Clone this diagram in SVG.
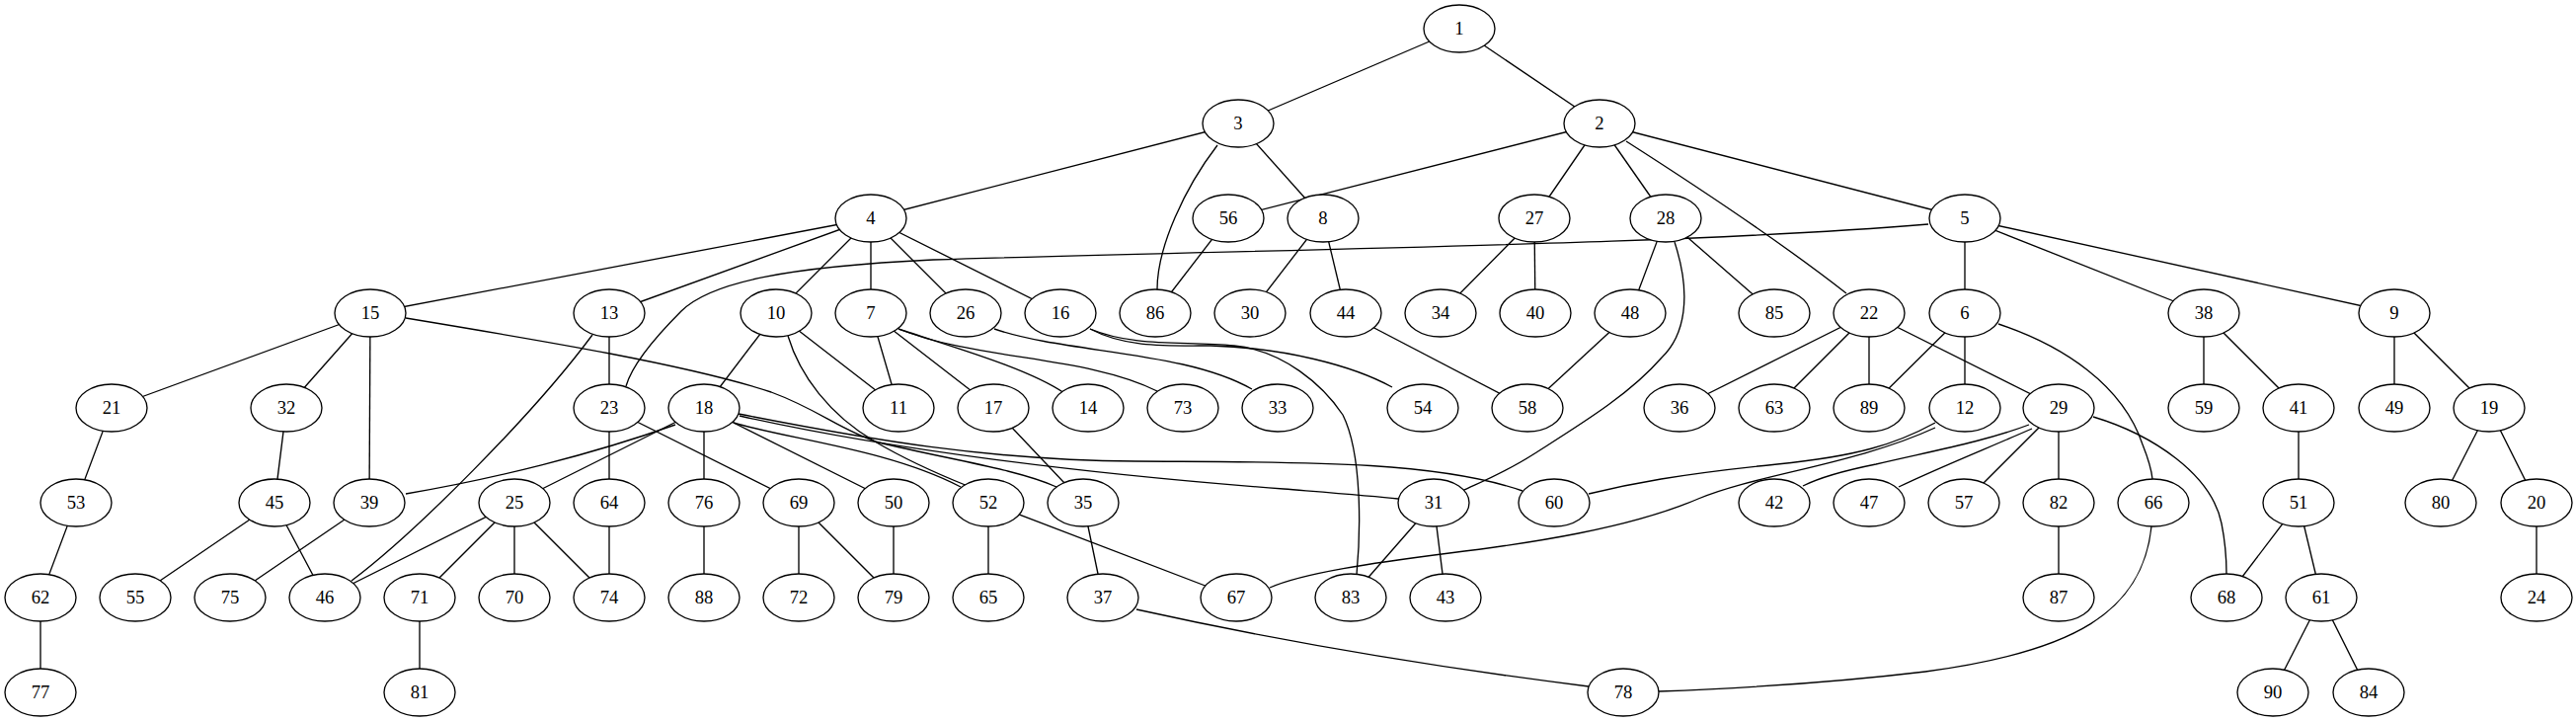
<svg xmlns="http://www.w3.org/2000/svg" width="2609" height="731" viewBox="0 0 2609 731">
<style>
.e{fill:none;stroke:#000;stroke-width:1.33}
.node ellipse{fill:#fff;stroke:#000;stroke-width:1.33}
.node text{font-family:"Liberation Serif","Times New Roman",serif;font-size:18.67px;text-anchor:middle;fill:#000}
</style>
<rect width="2609" height="731" fill="#fff"/>
<g id="edges">
<line class="e" x1="1478" y1="29" x2="1254" y2="125"/>
<line class="e" x1="1478" y1="29" x2="1620" y2="125"/>
<line class="e" x1="1254" y1="125" x2="882" y2="221"/>
<line class="e" x1="1254" y1="125" x2="1340" y2="221"/>
<path class="e" d="M1233,147 C1200,190 1172,250 1172,293"/>
<line class="e" x1="1620" y1="125" x2="1244" y2="221"/>
<line class="e" x1="1620" y1="125" x2="1554" y2="221"/>
<line class="e" x1="1620" y1="125" x2="1687" y2="221"/>
<path class="e" d="M1647,143 C1730,196 1810,250 1870,297"/>
<line class="e" x1="1620" y1="125" x2="1990" y2="221"/>
<line class="e" x1="882" y1="221" x2="375" y2="317"/>
<line class="e" x1="882" y1="221" x2="617" y2="317"/>
<line class="e" x1="882" y1="221" x2="786" y2="317"/>
<line class="e" x1="882" y1="221" x2="882" y2="317"/>
<line class="e" x1="882" y1="221" x2="978" y2="317"/>
<line class="e" x1="882" y1="221" x2="1074" y2="317"/>
<line class="e" x1="1244" y1="221" x2="1170" y2="317"/>
<line class="e" x1="1340" y1="221" x2="1266" y2="317"/>
<line class="e" x1="1340" y1="221" x2="1363" y2="317"/>
<line class="e" x1="1554" y1="221" x2="1459" y2="317"/>
<line class="e" x1="1554" y1="221" x2="1555" y2="317"/>
<line class="e" x1="1687" y1="221" x2="1651" y2="317"/>
<line class="e" x1="1687" y1="221" x2="1797" y2="317"/>
<path class="e" d="M1696,245 C1714,300 1706,340 1683,362 C1650,400 1600,430 1553,460 C1525,478 1500,488 1481,497"/>
<path class="e" d="M1953,227 C1700,248 1300,252 945,263 C800,270 720,285 690,315 C660,345 640,370 634,391"/>
<line class="e" x1="1990" y1="221" x2="1990" y2="317"/>
<line class="e" x1="1990" y1="221" x2="2232" y2="317"/>
<line class="e" x1="1990" y1="221" x2="2425" y2="317"/>
<line class="e" x1="375" y1="317" x2="113" y2="413"/>
<line class="e" x1="375" y1="317" x2="290" y2="413"/>
<line class="e" x1="375" y1="317" x2="374" y2="509"/>
<path class="e" d="M411,322 C550,345 700,370 781,397 C830,415 850,435 890,448 C960,465 1030,475 1070,493"/>
<line class="e" x1="617" y1="317" x2="617" y2="413"/>
<path class="e" d="M600,339 C540,420 420,540 356,588"/>
<line class="e" x1="786" y1="317" x2="713" y2="413"/>
<line class="e" x1="786" y1="317" x2="910" y2="413"/>
<path class="e" d="M798,340 C810,380 840,420 886,447 C920,467 950,480 980,492"/>
<line class="e" x1="882" y1="317" x2="910" y2="413"/>
<line class="e" x1="882" y1="317" x2="1006" y2="413"/>
<path class="e" d="M910,333 C960,350 1040,372 1078,398"/>
<path class="e" d="M910,333 C990,365 1100,360 1172,396"/>
<path class="e" d="M1007,333 C1080,358 1200,355 1268,394"/>
<path class="e" d="M1104,333 C1140,352 1180,350 1226,350 C1300,352 1370,370 1410,392"/>
<path class="e" d="M1104,333 C1150,352 1200,345 1250,350 C1300,355 1340,390 1360,420 C1380,460 1378,540 1374,582"/>
<line class="e" x1="1363" y1="317" x2="1547" y2="413"/>
<line class="e" x1="1651" y1="317" x2="1547" y2="413"/>
<line class="e" x1="1893" y1="317" x2="1701" y2="413"/>
<line class="e" x1="1893" y1="317" x2="1797" y2="413"/>
<line class="e" x1="1893" y1="317" x2="1893" y2="413"/>
<line class="e" x1="1893" y1="317" x2="2085" y2="413"/>
<line class="e" x1="1990" y1="317" x2="1893" y2="413"/>
<line class="e" x1="1990" y1="317" x2="1990" y2="413"/>
<path class="e" d="M2024,328 C2090,350 2150,390 2170,450 C2176,465 2179,475 2180,485"/>
<line class="e" x1="2232" y1="317" x2="2232" y2="413"/>
<line class="e" x1="2232" y1="317" x2="2328" y2="413"/>
<line class="e" x1="2425" y1="317" x2="2425" y2="413"/>
<line class="e" x1="2425" y1="317" x2="2521" y2="413"/>
<line class="e" x1="113" y1="413" x2="77" y2="509"/>
<line class="e" x1="290" y1="413" x2="278" y2="509"/>
<line class="e" x1="617" y1="413" x2="617" y2="509"/>
<line class="e" x1="617" y1="413" x2="809" y2="509"/>
<path class="e" d="M684,430 C600,460 500,485 411,500"/>
<line class="e" x1="713" y1="413" x2="521" y2="509"/>
<line class="e" x1="713" y1="413" x2="713" y2="509"/>
<line class="e" x1="713" y1="413" x2="905" y2="509"/>
<path class="e" d="M743,428 C800,445 900,455 973,493"/>
<path class="e" d="M748,419 C880,445 1000,466 1150,467 C1300,468 1450,465 1542,497"/>
<path class="e" d="M749,421 C900,455 1100,480 1300,495 C1350,499 1390,502 1416,505"/>
<line class="e" x1="1006" y1="413" x2="1097" y2="509"/>
<path class="e" d="M1960,428 C1920,450 1880,462 1800,470 C1700,480 1650,490 1609,500"/>
<path class="e" d="M1960,433 C1880,470 1780,480 1720,505 C1650,535 1550,550 1468,560 C1390,570 1320,580 1286,595"/>
<path class="e" d="M2055,430 C2010,447 1960,456 1900,470 C1860,478 1840,485 1826,492"/>
<path class="e" d="M2058,434 C2010,455 1960,475 1923,493"/>
<line class="e" x1="2085" y1="413" x2="1989" y2="509"/>
<line class="e" x1="2085" y1="413" x2="2085" y2="509"/>
<path class="e" d="M2120,422 C2180,440 2240,480 2250,530 C2255,555 2255,570 2255,581"/>
<line class="e" x1="2328" y1="413" x2="2328" y2="509"/>
<line class="e" x1="2521" y1="413" x2="2472" y2="509"/>
<line class="e" x1="2521" y1="413" x2="2569" y2="509"/>
<line class="e" x1="77" y1="509" x2="41" y2="605"/>
<line class="e" x1="278" y1="509" x2="137" y2="605"/>
<line class="e" x1="278" y1="509" x2="329" y2="605"/>
<line class="e" x1="374" y1="509" x2="233" y2="605"/>
<line class="e" x1="521" y1="509" x2="329" y2="605"/>
<line class="e" x1="521" y1="509" x2="425" y2="605"/>
<line class="e" x1="521" y1="509" x2="521" y2="605"/>
<line class="e" x1="521" y1="509" x2="617" y2="605"/>
<line class="e" x1="617" y1="509" x2="617" y2="605"/>
<line class="e" x1="713" y1="509" x2="713" y2="605"/>
<line class="e" x1="809" y1="509" x2="809" y2="605"/>
<line class="e" x1="809" y1="509" x2="905" y2="605"/>
<line class="e" x1="905" y1="509" x2="905" y2="605"/>
<line class="e" x1="1001" y1="509" x2="1001" y2="605"/>
<line class="e" x1="1001" y1="509" x2="1252" y2="605"/>
<line class="e" x1="1097" y1="509" x2="1117" y2="605"/>
<line class="e" x1="1452" y1="509" x2="1368" y2="605"/>
<line class="e" x1="1452" y1="509" x2="1464" y2="605"/>
<line class="e" x1="2085" y1="509" x2="2085" y2="605"/>
<path class="e" d="M2179,533 C2170,620 2100,660 1950,680 C1850,692 1760,697 1680,700"/>
<line class="e" x1="2328" y1="509" x2="2255" y2="605"/>
<line class="e" x1="2328" y1="509" x2="2351" y2="605"/>
<line class="e" x1="2569" y1="509" x2="2569" y2="605"/>
<line class="e" x1="41" y1="605" x2="41" y2="701"/>
<line class="e" x1="425" y1="605" x2="425" y2="701"/>
<path class="e" d="M1151,617 C1300,650 1450,675 1609,695"/>
<line class="e" x1="2351" y1="605" x2="2302" y2="701"/>
<line class="e" x1="2351" y1="605" x2="2399" y2="701"/>
</g>
<g id="nodes">
<g id="n1" class="node"><ellipse cx="1478" cy="29" rx="36" ry="24"/><text x="1478" y="35">1</text></g>
<g id="n2" class="node"><ellipse cx="1620" cy="125" rx="36" ry="24"/><text x="1620" y="131">2</text></g>
<g id="n3" class="node"><ellipse cx="1254" cy="125" rx="36" ry="24"/><text x="1254" y="131">3</text></g>
<g id="n4" class="node"><ellipse cx="882" cy="221" rx="36" ry="24"/><text x="882" y="227">4</text></g>
<g id="n56" class="node"><ellipse cx="1244" cy="221" rx="36" ry="24"/><text x="1244" y="227">56</text></g>
<g id="n8" class="node"><ellipse cx="1340" cy="221" rx="36" ry="24"/><text x="1340" y="227">8</text></g>
<g id="n27" class="node"><ellipse cx="1554" cy="221" rx="36" ry="24"/><text x="1554" y="227">27</text></g>
<g id="n28" class="node"><ellipse cx="1687" cy="221" rx="36" ry="24"/><text x="1687" y="227">28</text></g>
<g id="n5" class="node"><ellipse cx="1990" cy="221" rx="36" ry="24"/><text x="1990" y="227">5</text></g>
<g id="n15" class="node"><ellipse cx="375" cy="317" rx="36" ry="24"/><text x="375" y="323">15</text></g>
<g id="n13" class="node"><ellipse cx="617" cy="317" rx="36" ry="24"/><text x="617" y="323">13</text></g>
<g id="n10" class="node"><ellipse cx="786" cy="317" rx="36" ry="24"/><text x="786" y="323">10</text></g>
<g id="n7" class="node"><ellipse cx="882" cy="317" rx="36" ry="24"/><text x="882" y="323">7</text></g>
<g id="n26" class="node"><ellipse cx="978" cy="317" rx="36" ry="24"/><text x="978" y="323">26</text></g>
<g id="n16" class="node"><ellipse cx="1074" cy="317" rx="36" ry="24"/><text x="1074" y="323">16</text></g>
<g id="n86" class="node"><ellipse cx="1170" cy="317" rx="36" ry="24"/><text x="1170" y="323">86</text></g>
<g id="n30" class="node"><ellipse cx="1266" cy="317" rx="36" ry="24"/><text x="1266" y="323">30</text></g>
<g id="n44" class="node"><ellipse cx="1363" cy="317" rx="36" ry="24"/><text x="1363" y="323">44</text></g>
<g id="n34" class="node"><ellipse cx="1459" cy="317" rx="36" ry="24"/><text x="1459" y="323">34</text></g>
<g id="n40" class="node"><ellipse cx="1555" cy="317" rx="36" ry="24"/><text x="1555" y="323">40</text></g>
<g id="n48" class="node"><ellipse cx="1651" cy="317" rx="36" ry="24"/><text x="1651" y="323">48</text></g>
<g id="n85" class="node"><ellipse cx="1797" cy="317" rx="36" ry="24"/><text x="1797" y="323">85</text></g>
<g id="n22" class="node"><ellipse cx="1893" cy="317" rx="36" ry="24"/><text x="1893" y="323">22</text></g>
<g id="n6" class="node"><ellipse cx="1990" cy="317" rx="36" ry="24"/><text x="1990" y="323">6</text></g>
<g id="n38" class="node"><ellipse cx="2232" cy="317" rx="36" ry="24"/><text x="2232" y="323">38</text></g>
<g id="n9" class="node"><ellipse cx="2425" cy="317" rx="36" ry="24"/><text x="2425" y="323">9</text></g>
<g id="n21" class="node"><ellipse cx="113" cy="413" rx="36" ry="24"/><text x="113" y="419">21</text></g>
<g id="n32" class="node"><ellipse cx="290" cy="413" rx="36" ry="24"/><text x="290" y="419">32</text></g>
<g id="n23" class="node"><ellipse cx="617" cy="413" rx="36" ry="24"/><text x="617" y="419">23</text></g>
<g id="n18" class="node"><ellipse cx="713" cy="413" rx="36" ry="24"/><text x="713" y="419">18</text></g>
<g id="n11" class="node"><ellipse cx="910" cy="413" rx="36" ry="24"/><text x="910" y="419">11</text></g>
<g id="n17" class="node"><ellipse cx="1006" cy="413" rx="36" ry="24"/><text x="1006" y="419">17</text></g>
<g id="n14" class="node"><ellipse cx="1102" cy="413" rx="36" ry="24"/><text x="1102" y="419">14</text></g>
<g id="n73" class="node"><ellipse cx="1198" cy="413" rx="36" ry="24"/><text x="1198" y="419">73</text></g>
<g id="n33" class="node"><ellipse cx="1294" cy="413" rx="36" ry="24"/><text x="1294" y="419">33</text></g>
<g id="n54" class="node"><ellipse cx="1441" cy="413" rx="36" ry="24"/><text x="1441" y="419">54</text></g>
<g id="n58" class="node"><ellipse cx="1547" cy="413" rx="36" ry="24"/><text x="1547" y="419">58</text></g>
<g id="n36" class="node"><ellipse cx="1701" cy="413" rx="36" ry="24"/><text x="1701" y="419">36</text></g>
<g id="n63" class="node"><ellipse cx="1797" cy="413" rx="36" ry="24"/><text x="1797" y="419">63</text></g>
<g id="n89" class="node"><ellipse cx="1893" cy="413" rx="36" ry="24"/><text x="1893" y="419">89</text></g>
<g id="n12" class="node"><ellipse cx="1990" cy="413" rx="36" ry="24"/><text x="1990" y="419">12</text></g>
<g id="n29" class="node"><ellipse cx="2085" cy="413" rx="36" ry="24"/><text x="2085" y="419">29</text></g>
<g id="n59" class="node"><ellipse cx="2232" cy="413" rx="36" ry="24"/><text x="2232" y="419">59</text></g>
<g id="n41" class="node"><ellipse cx="2328" cy="413" rx="36" ry="24"/><text x="2328" y="419">41</text></g>
<g id="n49" class="node"><ellipse cx="2425" cy="413" rx="36" ry="24"/><text x="2425" y="419">49</text></g>
<g id="n19" class="node"><ellipse cx="2521" cy="413" rx="36" ry="24"/><text x="2521" y="419">19</text></g>
<g id="n53" class="node"><ellipse cx="77" cy="509" rx="36" ry="24"/><text x="77" y="515">53</text></g>
<g id="n45" class="node"><ellipse cx="278" cy="509" rx="36" ry="24"/><text x="278" y="515">45</text></g>
<g id="n39" class="node"><ellipse cx="374" cy="509" rx="36" ry="24"/><text x="374" y="515">39</text></g>
<g id="n25" class="node"><ellipse cx="521" cy="509" rx="36" ry="24"/><text x="521" y="515">25</text></g>
<g id="n64" class="node"><ellipse cx="617" cy="509" rx="36" ry="24"/><text x="617" y="515">64</text></g>
<g id="n76" class="node"><ellipse cx="713" cy="509" rx="36" ry="24"/><text x="713" y="515">76</text></g>
<g id="n69" class="node"><ellipse cx="809" cy="509" rx="36" ry="24"/><text x="809" y="515">69</text></g>
<g id="n50" class="node"><ellipse cx="905" cy="509" rx="36" ry="24"/><text x="905" y="515">50</text></g>
<g id="n52" class="node"><ellipse cx="1001" cy="509" rx="36" ry="24"/><text x="1001" y="515">52</text></g>
<g id="n35" class="node"><ellipse cx="1097" cy="509" rx="36" ry="24"/><text x="1097" y="515">35</text></g>
<g id="n31" class="node"><ellipse cx="1452" cy="509" rx="36" ry="24"/><text x="1452" y="515">31</text></g>
<g id="n60" class="node"><ellipse cx="1574" cy="509" rx="36" ry="24"/><text x="1574" y="515">60</text></g>
<g id="n42" class="node"><ellipse cx="1797" cy="509" rx="36" ry="24"/><text x="1797" y="515">42</text></g>
<g id="n47" class="node"><ellipse cx="1893" cy="509" rx="36" ry="24"/><text x="1893" y="515">47</text></g>
<g id="n57" class="node"><ellipse cx="1989" cy="509" rx="36" ry="24"/><text x="1989" y="515">57</text></g>
<g id="n82" class="node"><ellipse cx="2085" cy="509" rx="36" ry="24"/><text x="2085" y="515">82</text></g>
<g id="n66" class="node"><ellipse cx="2181" cy="509" rx="36" ry="24"/><text x="2181" y="515">66</text></g>
<g id="n51" class="node"><ellipse cx="2328" cy="509" rx="36" ry="24"/><text x="2328" y="515">51</text></g>
<g id="n80" class="node"><ellipse cx="2472" cy="509" rx="36" ry="24"/><text x="2472" y="515">80</text></g>
<g id="n20" class="node"><ellipse cx="2569" cy="509" rx="36" ry="24"/><text x="2569" y="515">20</text></g>
<g id="n62" class="node"><ellipse cx="41" cy="605" rx="36" ry="24"/><text x="41" y="611">62</text></g>
<g id="n55" class="node"><ellipse cx="137" cy="605" rx="36" ry="24"/><text x="137" y="611">55</text></g>
<g id="n75" class="node"><ellipse cx="233" cy="605" rx="36" ry="24"/><text x="233" y="611">75</text></g>
<g id="n46" class="node"><ellipse cx="329" cy="605" rx="36" ry="24"/><text x="329" y="611">46</text></g>
<g id="n71" class="node"><ellipse cx="425" cy="605" rx="36" ry="24"/><text x="425" y="611">71</text></g>
<g id="n70" class="node"><ellipse cx="521" cy="605" rx="36" ry="24"/><text x="521" y="611">70</text></g>
<g id="n74" class="node"><ellipse cx="617" cy="605" rx="36" ry="24"/><text x="617" y="611">74</text></g>
<g id="n88" class="node"><ellipse cx="713" cy="605" rx="36" ry="24"/><text x="713" y="611">88</text></g>
<g id="n72" class="node"><ellipse cx="809" cy="605" rx="36" ry="24"/><text x="809" y="611">72</text></g>
<g id="n79" class="node"><ellipse cx="905" cy="605" rx="36" ry="24"/><text x="905" y="611">79</text></g>
<g id="n65" class="node"><ellipse cx="1001" cy="605" rx="36" ry="24"/><text x="1001" y="611">65</text></g>
<g id="n37" class="node"><ellipse cx="1117" cy="605" rx="36" ry="24"/><text x="1117" y="611">37</text></g>
<g id="n67" class="node"><ellipse cx="1252" cy="605" rx="36" ry="24"/><text x="1252" y="611">67</text></g>
<g id="n83" class="node"><ellipse cx="1368" cy="605" rx="36" ry="24"/><text x="1368" y="611">83</text></g>
<g id="n43" class="node"><ellipse cx="1464" cy="605" rx="36" ry="24"/><text x="1464" y="611">43</text></g>
<g id="n87" class="node"><ellipse cx="2085" cy="605" rx="36" ry="24"/><text x="2085" y="611">87</text></g>
<g id="n68" class="node"><ellipse cx="2255" cy="605" rx="36" ry="24"/><text x="2255" y="611">68</text></g>
<g id="n61" class="node"><ellipse cx="2351" cy="605" rx="36" ry="24"/><text x="2351" y="611">61</text></g>
<g id="n24" class="node"><ellipse cx="2569" cy="605" rx="36" ry="24"/><text x="2569" y="611">24</text></g>
<g id="n77" class="node"><ellipse cx="41" cy="701" rx="36" ry="24"/><text x="41" y="707">77</text></g>
<g id="n81" class="node"><ellipse cx="425" cy="701" rx="36" ry="24"/><text x="425" y="707">81</text></g>
<g id="n78" class="node"><ellipse cx="1644" cy="701" rx="36" ry="24"/><text x="1644" y="707">78</text></g>
<g id="n90" class="node"><ellipse cx="2302" cy="701" rx="36" ry="24"/><text x="2302" y="707">90</text></g>
<g id="n84" class="node"><ellipse cx="2399" cy="701" rx="36" ry="24"/><text x="2399" y="707">84</text></g>
</g>
</svg>
